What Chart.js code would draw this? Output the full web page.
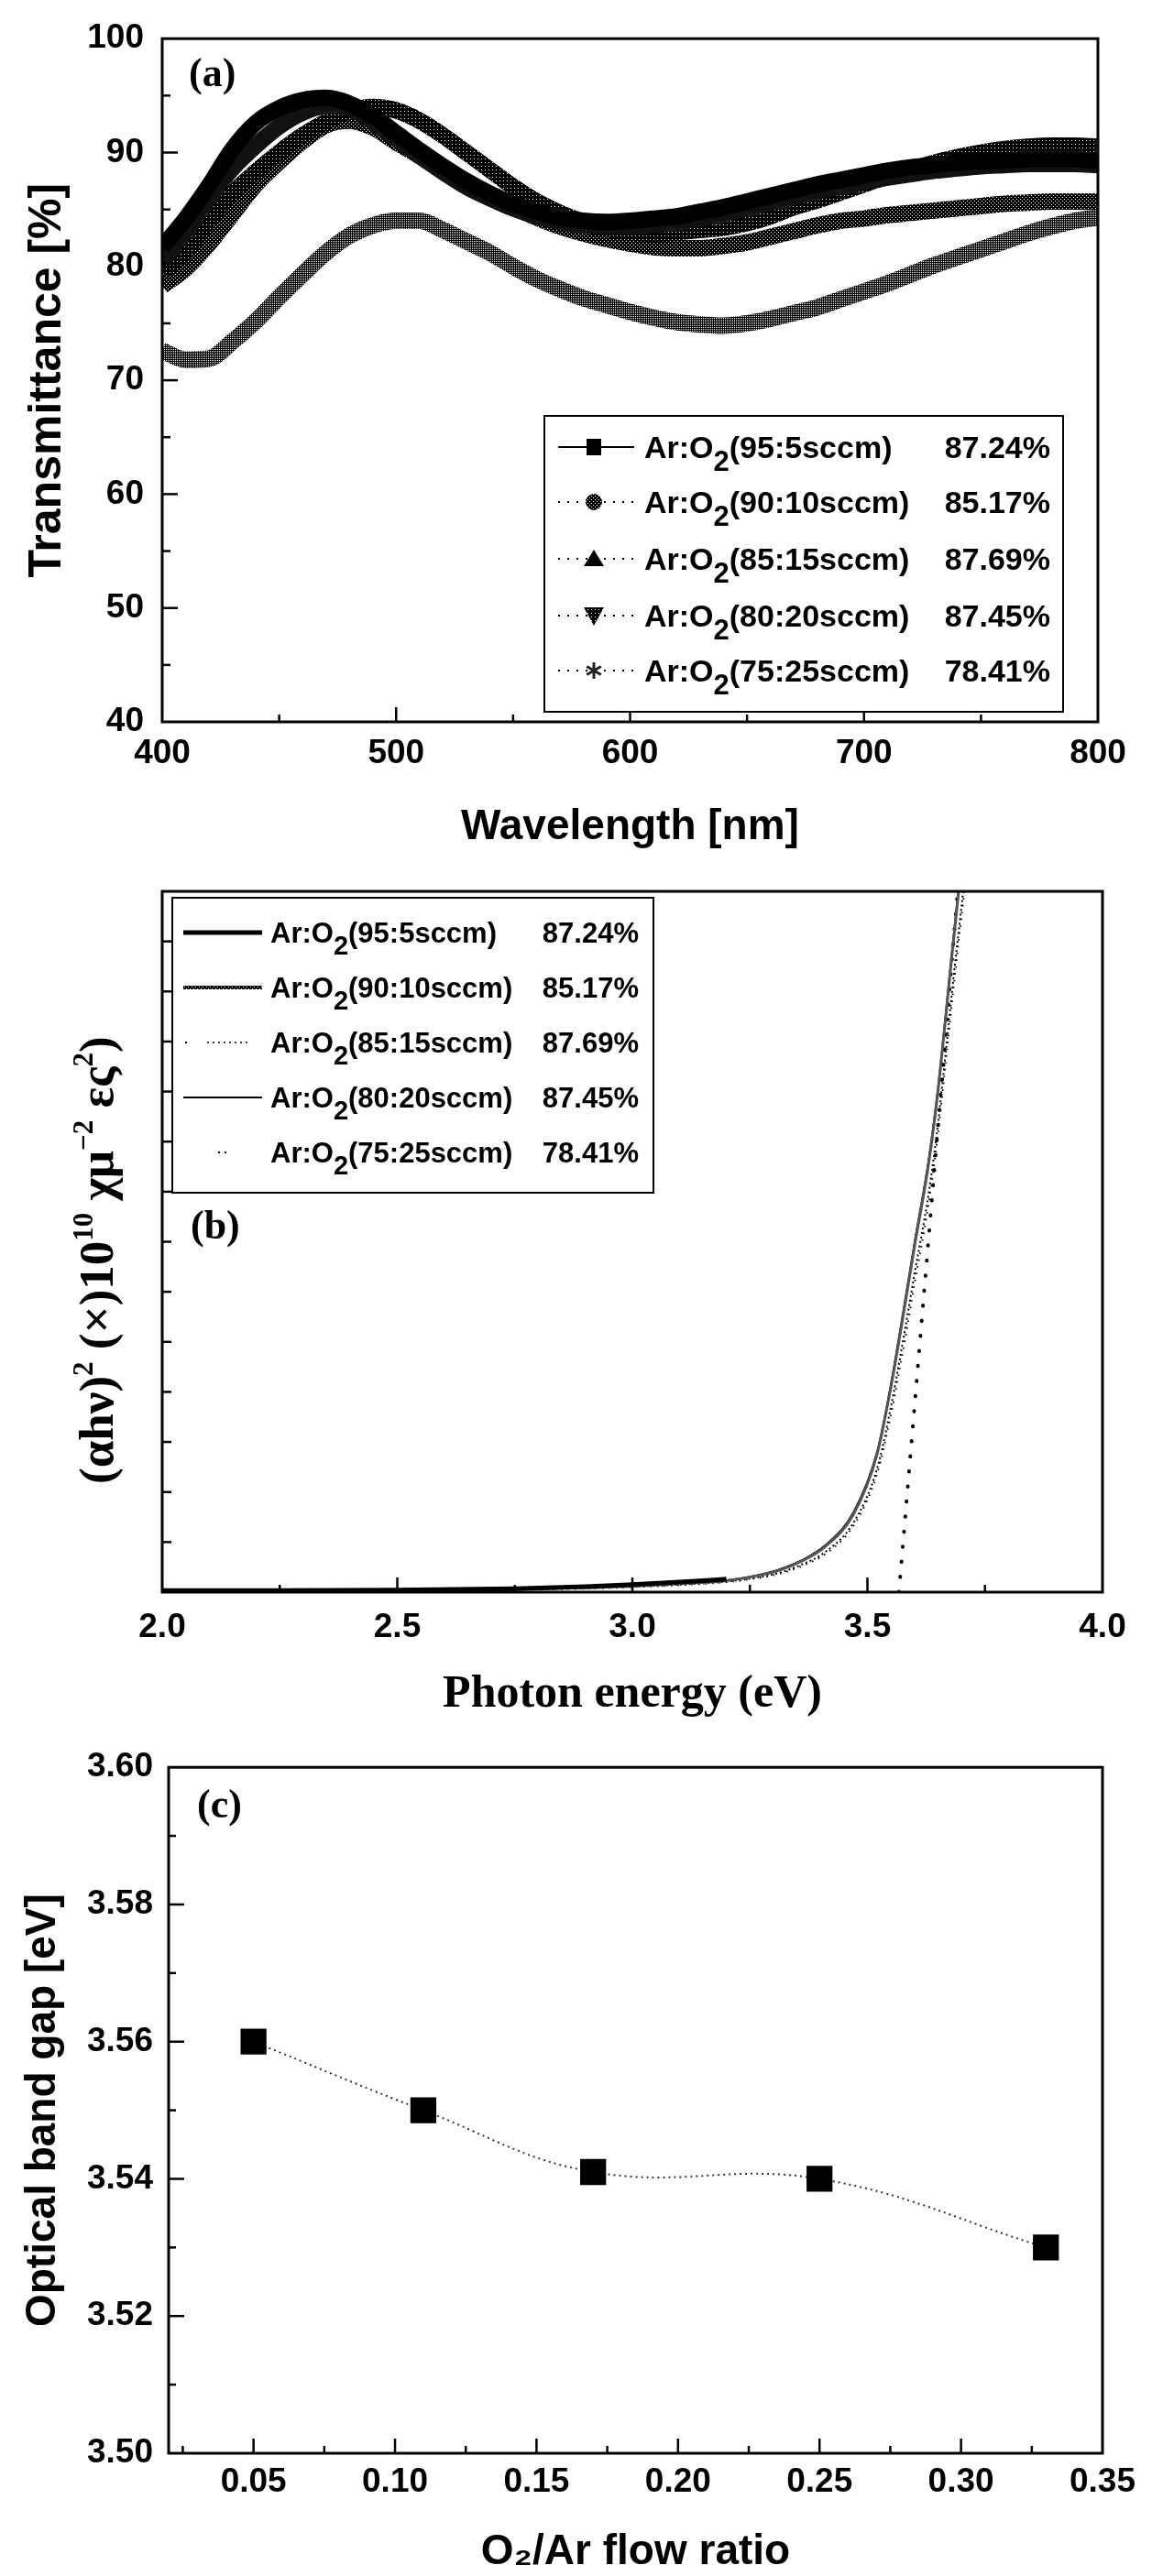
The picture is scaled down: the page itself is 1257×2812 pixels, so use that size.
<!DOCTYPE html>
<html>
<head>
<meta charset="utf-8">
<script src="https://cdn.jsdelivr.net/npm/chart.js"></script>
<style>
  html, body { margin: 0; padding: 0; background: #fff; }
  body { width: 1257px; height: 2812px; position: relative; overflow: hidden; }
  canvas { position: absolute; left: 0; }
</style>
</head>
<body>
<canvas id="chartA" width="1257" height="940" style="top:0px"></canvas>
<canvas id="chartB" width="1257" height="950" style="top:940px"></canvas>
<canvas id="chartC" width="1257" height="922" style="top:1890px"></canvas>
<script>
// panel (a): transmittance spectra
const wavelength = [400, 410, 420, 430, 440, 450, 460, 470, 480, 490,
  500, 510, 520, 530, 540, 550, 560, 570, 580, 590,
  600, 610, 620, 630, 640, 650, 660, 670, 680, 690,
  700, 710, 720, 730, 740, 750, 760, 770, 780, 790, 800];
const trans95_5 = [81.7, 84.2, 87.1, 90.3, 92.6, 93.9, 94.6, 94.8, 94.3, 93.2,
  91.7, 90.2, 88.8, 87.5, 86.4, 85.5, 84.8, 84.3, 84.0, 83.9,
  84.0, 84.2, 84.4, 84.8, 85.2, 85.7, 86.2, 86.7, 87.2, 87.6,
  88.0, 88.4, 88.7, 88.9, 89.1, 89.2, 89.3, 89.4, 89.4, 89.4, 89.3];
const trans90_10 = [78.3, 79.8, 82.0, 84.6, 87.2, 89.2, 91.0, 92.4, 92.8, 92.2,
  90.9, 89.7, 88.4, 87.2, 86.2, 85.2, 84.3, 83.5, 82.9, 82.4,
  82.0, 81.7, 81.6, 81.6, 81.8, 82.1, 82.6, 83.1, 83.6, 84.0,
  84.2, 84.5, 84.7, 84.9, 85.1, 85.3, 85.5, 85.6, 85.7, 85.7, 85.7];
const trans85_15 = [80.6, 83.0, 86.0, 88.6, 90.6, 92.3, 93.5, 94.1, 93.9, 92.7,
  91.2, 89.7, 88.3, 87.0, 86.0, 85.1, 84.4, 83.9, 83.6, 83.5,
  83.5, 83.6, 83.9, 84.2, 84.6, 85.1, 85.6, 86.1, 86.6, 87.0,
  87.4, 87.8, 88.1, 88.4, 88.6, 88.8, 88.9, 89.0, 89.0, 89.0, 88.9];
const trans80_20 = [79.5, 81.2, 84.0, 86.4, 88.3, 90.0, 91.5, 92.7, 93.6, 94.0,
  93.7, 92.8, 91.5, 90.0, 88.5, 87.0, 85.7, 84.7, 83.9, 83.3,
  83.0, 82.9, 83.0, 83.2, 83.4, 83.8, 84.4, 85.2, 85.8, 86.5,
  87.2, 87.9, 88.5, 89.1, 89.6, 90.0, 90.3, 90.5, 90.6, 90.6, 90.5];
const trans75_25 = [72.6, 71.8, 71.9, 73.4, 75.2, 77.3, 79.3, 81.2, 82.7, 83.6,
  84.0, 84.0, 83.2, 82.2, 81.2, 80.0, 78.9, 78.0, 77.2, 76.6,
  76.0, 75.5, 75.1, 74.9, 74.8, 75.0, 75.4, 75.9, 76.4, 77.1,
  77.8, 78.5, 79.3, 80.1, 80.8, 81.5, 82.2, 82.9, 83.5, 84.0, 84.3];

const gasRatios = ['95:5', '90:10', '85:15', '80:20', '75:25'];
const avgTransmittance = ['87.24%', '85.17%', '87.69%', '87.45%', '78.41%'];

// panel (b): (alpha h nu)^2 vs photon energy, arbitrary units 0..14
const photonEnergy = [2.0, 2.25, 2.5, 2.75, 2.9, 3.0, 3.1, 3.2, 3.25, 3.31, 3.36, 3.41,
  3.47, 3.52, 3.55, 3.58, 3.60, 3.63, 3.65, 3.665, 3.68, 3.694, 3.71];
const tauc95_5 = [0.03, 0.03, 0.04, 0.07, 0.11, 0.15, 0.20, 0.26, null, null, null, null,
  null, null, null, null, null, null, null, null, null, null, null];
const tauc90_10 = [0.03, 0.03, 0.04, 0.06, 0.09, 0.12, 0.17, 0.23, 0.30, 0.43, 0.62, 0.91,
  1.55, 2.74, 4.10, 5.75, 6.90, 8.55, 10.0, 11.35, 12.75, 14.0, 15.3];
const tauc85_15 = [0.02, 0.02, 0.03, 0.05, 0.08, 0.11, 0.15, 0.21, 0.27, 0.38, 0.55, 0.80,
  1.38, 2.45, 3.70, 5.25, 6.35, 7.95, 9.35, 10.65, 12.0, 13.2, 14.5];
const tauc80_20 = [0.03, 0.03, 0.04, 0.06, 0.09, 0.13, 0.18, 0.24, 0.31, 0.45, 0.64, 0.94,
  1.60, 2.80, 4.18, 5.85, 7.00, 8.65, 10.1, 11.45, 12.85, 14.1, 15.4];
const tauc75_25 = [0.02, 0.02, 0.03, 0.05, 0.07, 0.10, 0.14, 0.20, 0.26, 0.36, 0.52, 0.76,
  1.32, 2.35, 3.55, 5.05, 6.15, 7.75, 9.15, 10.45, 11.8, 13.0, 14.3];
const tangentEnergy = [3.567, 3.692];
const tangentValue = [0, 14];

// panel (c): optical band gap vs O2/Ar flow ratio
const flowRatio = [0.05, 0.11, 0.17, 0.25, 0.33];
const bandGap = [3.560, 3.550, 3.541, 3.540, 3.530];

const SANS = '"Liberation Sans", Arial, Helvetica, sans-serif';
const SERIF = '"Liberation Serif", "Times New Roman", "DejaVu Serif", serif';
Chart.defaults.font.family = SANS;
Chart.defaults.color = '#000';

const xy = (xs, ys) => xs.map((x, i) => ({ x: x, y: ys[i] }));

function speckle(cells) {
  const c = document.createElement('canvas');
  c.width = c.height = 4;
  const g = c.getContext('2d');
  g.fillStyle = '#000';
  g.fillRect(0, 0, 4, 4);
  g.fillStyle = '#fff';
  cells.forEach(p => g.fillRect(p[0], p[1], 1, 1));
  return g.createPattern(c, 'repeat');
}
const densePat = speckle([[1, 1]]);
const dotPat = speckle([[1, 1], [3, 3]]);
const crossPat = speckle([[1, 1], [3, 3], [1, 3], [3, 1]]);

// frame + inward ticks
function makeFrame(t) {
  return {
    id: 'frame',
    afterDatasetsDraw(chart) {
      const ctx = chart.ctx, a = chart.chartArea;
      const xs = chart.scales.x, ys = chart.scales.y;
      ctx.save();
      ctx.strokeStyle = '#000';
      ctx.lineWidth = 2.5;
      xs.ticks.forEach(tk => {
        const p = xs.getPixelForValue(tk.value);
        if (p <= a.left + 2 || p >= a.right - 2) return;
        const len = tk.label !== '' ? t.xMajor : t.xMinor;
        ctx.beginPath(); ctx.moveTo(p, a.bottom); ctx.lineTo(p, a.bottom - len); ctx.stroke();
      });
      ys.ticks.forEach(tk => {
        const p = ys.getPixelForValue(tk.value);
        if (p <= a.top + 2 || p >= a.bottom - 2) return;
        const len = tk.label !== '' ? t.yMajor : t.yMinor;
        ctx.beginPath(); ctx.moveTo(a.left, p); ctx.lineTo(a.left + len, p); ctx.stroke();
      });
      ctx.lineWidth = 3;
      ctx.strokeRect(a.left, a.top, a.right - a.left, a.bottom - a.top);
      ctx.restore();
    }
  };
}

function drawMarker(ctx, kind, x, y) {
  ctx.save();
  ctx.setLineDash([]);
  ctx.beginPath();
  if (kind === 'square') {
    ctx.fillStyle = '#000';
    ctx.fillRect(x - 8, y - 9, 16, 18);
  } else if (kind === 'circle') {
    ctx.fillStyle = dotPat;
    ctx.arc(x, y, 9, 0, Math.PI * 2);
    ctx.fill();
  } else if (kind === 'triangle') {
    ctx.fillStyle = '#000';
    ctx.moveTo(x, y - 10); ctx.lineTo(x + 11, y + 8); ctx.lineTo(x - 11, y + 8);
    ctx.closePath(); ctx.fill();
  } else if (kind === 'triangleDown') {
    ctx.fillStyle = densePat;
    ctx.moveTo(x - 11, y - 9); ctx.lineTo(x + 11, y - 9); ctx.lineTo(x, y + 11);
    ctx.closePath(); ctx.fill();
  } else if (kind === 'star') {
    ctx.strokeStyle = '#222';
    ctx.lineWidth = 3;
    for (let k = 0; k < 3; k++) {
      const ang = Math.PI / 2 + k * Math.PI / 3;
      ctx.moveTo(x - 9 * Math.cos(ang), y - 9 * Math.sin(ang));
      ctx.lineTo(x + 9 * Math.cos(ang), y + 9 * Math.sin(ang));
    }
    ctx.stroke();
  }
  ctx.restore();
}

function drawSample(ctx, kind, x0, x1, y, mx) {
  ctx.save();
  ctx.strokeStyle = '#000';
  ctx.lineCap = 'butt';
  ctx.beginPath();
  if (kind === 'solid') {
    ctx.lineWidth = 2;
    ctx.moveTo(x0, y); ctx.lineTo(x1, y); ctx.stroke();
  } else if (kind === 'dots') {
    ctx.lineWidth = 2;
    ctx.setLineDash([2, 8]);
    ctx.moveTo(x0, y); ctx.lineTo(x1, y); ctx.stroke();
  } else if (kind === 'thick') {
    ctx.lineWidth = 5;
    ctx.moveTo(x0, y); ctx.lineTo(x1, y); ctx.stroke();
  } else if (kind === 'textured') {
    ctx.lineWidth = 4;
    ctx.strokeStyle = dotPat;
    ctx.moveTo(x0, y); ctx.lineTo(x1, y); ctx.stroke();
  } else if (kind === 'fineDots') {
    ctx.lineWidth = 1.5;
    ctx.setLineDash([2, 4]);
    ctx.moveTo(x0 + 26, y); ctx.lineTo(x1 - 12, y); ctx.stroke();
    ctx.fillStyle = '#000';
    ctx.fillRect(x0 + 2, y - 1, 2, 2);
  } else if (kind === 'thin') {
    ctx.lineWidth = 2;
    ctx.moveTo(x0, y); ctx.lineTo(x1, y); ctx.stroke();
  } else if (kind === 'sparse') {
    ctx.fillStyle = '#000';
    ctx.fillRect(mx - 5, y - 1, 2, 2);
    ctx.fillRect(mx + 2, y - 1, 2, 2);
  }
  ctx.restore();
}

function drawLegend(ctx, lg) {
  ctx.save();
  const b = lg.box;
  ctx.fillStyle = '#fff';
  ctx.fillRect(b[0], b[1], b[2] - b[0], b[3] - b[1]);
  ctx.strokeStyle = '#000';
  ctx.lineWidth = 2;
  ctx.strokeRect(b[0], b[1], b[2] - b[0], b[3] - b[1]);
  const fs = lg.fontSize;
  gasRatios.forEach((ratio, i) => {
    const y = lg.rowY[i];
    drawSample(ctx, lg.lines[i], lg.lineX[0], lg.lineX[1], y, lg.markX);
    if (lg.markers) drawMarker(ctx, lg.markers[i], lg.markX, y);
    const base = y + fs * 0.35;
    ctx.fillStyle = '#000';
    ctx.textBaseline = 'alphabetic';
    ctx.textAlign = 'left';
    ctx.font = 'bold ' + fs + 'px ' + SANS;
    let x = lg.textX;
    ctx.fillText('Ar:O', x, base);
    x += ctx.measureText('Ar:O').width;
    ctx.font = 'bold ' + Math.round(fs * 0.92) + 'px ' + SANS;
    ctx.fillText('2', x, base + fs * 0.42);
    x += ctx.measureText('2').width;
    ctx.font = 'bold ' + fs + 'px ' + SANS;
    ctx.fillText('(' + ratio + 'sccm)', x, base);
    ctx.textAlign = 'right';
    ctx.fillText(avgTransmittance[i], lg.pctRight, base);
  });
  ctx.restore();
}

// rotated axis title with real superscripts, fitted to a target length
function drawRichTitle(ctx, rt) {
  ctx.save();
  const big = rt.size, small = Math.round(rt.size * 0.6);
  const fontOf = s => 'bold ' + s + 'px ' + SERIF;
  let w = 0;
  rt.parts.forEach(p => { ctx.font = fontOf(p[1] ? small : big); w += ctx.measureText(p[0]).width; });
  const k = rt.length / w;
  const B = big * k, S = small * k;
  ctx.translate(rt.cx, rt.cy);
  ctx.rotate(-Math.PI / 2);
  ctx.fillStyle = '#000';
  ctx.textBaseline = 'alphabetic';
  ctx.textAlign = 'left';
  let x = -rt.length / 2;
  const base = B * 0.33;
  rt.parts.forEach(p => {
    ctx.font = fontOf(Math.round(p[1] ? S : B));
    ctx.fillText(p[0], x, p[1] ? base - B * 0.42 : base);
    x += ctx.measureText(p[0]).width;
  });
  ctx.restore();
}

function makeDecor(spec) {
  return {
    id: 'decor',
    afterDraw(chart) {
      const ctx = chart.ctx;
      ctx.save();
      ctx.font = 'bold 44px ' + SERIF;
      ctx.fillStyle = '#000';
      ctx.textAlign = 'left';
      ctx.textBaseline = 'middle';
      ctx.fillText(spec.tag, spec.tagX, spec.tagY);
      ctx.restore();
      if (spec.legend) drawLegend(ctx, spec.legend);
      if (spec.richTitle) drawRichTitle(ctx, spec.richTitle);
    }
  };
}

function fitTo(w) { return scale => { scale.width = w; }; }
function fitH(h) { return scale => { scale.height = h; }; }

const tickFont = { family: SANS, size: 37, weight: 'bold' };
const noGrid = { display: false, drawTicks: false, tickLength: 0 };

// ---------- (a) ----------
const lineA = (label, data, color, order) => ({
  label: label, data: data, borderColor: color, backgroundColor: color,
  borderWidth: 18, pointRadius: 0, cubicInterpolationMode: 'monotone',
  clip: 0, order: order, fill: false
});

new Chart(document.getElementById('chartA'), {
  type: 'line',
  data: {
    datasets: [
      lineA('Ar:O₂(95:5sccm)', xy(wavelength, trans95_5), '#000', 0),
      lineA('Ar:O₂(90:10sccm)', xy(wavelength, trans90_10), dotPat, 3),
      lineA('Ar:O₂(85:15sccm)', xy(wavelength, trans85_15), '#111', 1),
      lineA('Ar:O₂(80:20sccm)', xy(wavelength, trans80_20), densePat, 2),
      lineA('Ar:O₂(75:25sccm)', xy(wavelength, trans75_25), crossPat, 4)
    ]
  },
  options: {
    responsive: false, animation: false, devicePixelRatio: 1,
    layout: { padding: { left: 0, top: 31, right: 59, bottom: 0 } },
    plugins: { legend: { display: false }, tooltip: { enabled: false } },
    scales: {
      x: {
        type: 'linear', min: 400, max: 800,
        grid: noGrid, border: { display: false },
        ticks: { stepSize: 50, autoSkip: false, maxRotation: 0, padding: 13, font: tickFont,
          callback: v => (v % 100 === 0 ? String(v) : '') },
        title: { display: true, text: 'Wavelength [nm]',
          font: { family: SANS, size: 46, weight: 'bold', lineHeight: 1 }, padding: { top: 0, bottom: 14 } },
        afterFit: fitH(152)
      },
      y: {
        type: 'linear', min: 40, max: 100,
        grid: noGrid, border: { display: false },
        ticks: { stepSize: 5, autoSkip: false, padding: 20, font: tickFont,
          callback: v => (v % 10 === 0 ? String(v) : '') },
        title: { display: true, text: 'Transmittance [%]',
          font: { family: SANS, size: 50, weight: 'bold', lineHeight: 1 }, padding: { top: 27, bottom: 0 } },
        afterFit: fitTo(177)
      }
    }
  },
  plugins: [
    makeFrame({ xMajor: 16, xMinor: 8, yMajor: 17, yMinor: 9 }),
    makeDecor({
      tag: '(a)', tagX: 206, tagY: 83,
      legend: {
        box: [594, 454, 1160, 777],
        rowY: [488, 548, 610, 672, 732],
        lineX: [609, 692], markX: 648,
        textX: 703, pctRight: 1146, fontSize: 34,
        lines: ['solid', 'dots', 'dots', 'dots', 'dots'],
        markers: ['square', 'circle', 'triangle', 'triangleDown', 'star']
      }
    })
  ]
});

// ---------- (b) ----------
new Chart(document.getElementById('chartB'), {
  type: 'line',
  data: {
    datasets: [
      { label: 'Ar:O₂(95:5sccm)', data: xy(photonEnergy, tauc95_5), borderColor: '#000', borderWidth: 5 },
      { label: 'Ar:O₂(90:10sccm)', data: xy(photonEnergy, tauc90_10), borderColor: '#555', borderWidth: 3 },
      { label: 'Ar:O₂(85:15sccm)', data: xy(photonEnergy, tauc85_15), borderColor: '#000', borderWidth: 2, borderDash: [2, 3] },
      { label: 'Ar:O₂(80:20sccm)', data: xy(photonEnergy, tauc80_20), borderColor: '#000', borderWidth: 1.5 },
      { label: 'Ar:O₂(75:25sccm)', data: xy(photonEnergy, tauc75_25), borderColor: '#000', borderWidth: 2, borderDash: [1.5, 6] },
      { label: 'tangent', data: xy(tangentEnergy, tangentValue), borderColor: '#000', borderWidth: 4,
        borderDash: [0.5, 16], borderCapStyle: 'round' }
    ].map(d => Object.assign({ pointRadius: 0, cubicInterpolationMode: 'monotone', clip: 0, fill: false, spanGaps: false }, d))
  },
  options: {
    responsive: false, animation: false, devicePixelRatio: 1,
    layout: { padding: { left: 0, top: 33, right: 54, bottom: 0 } },
    plugins: { legend: { display: false }, tooltip: { enabled: false } },
    scales: {
      x: {
        type: 'linear', min: 2, max: 4,
        grid: noGrid, border: { display: false },
        ticks: { stepSize: 0.25, autoSkip: false, maxRotation: 0, padding: 17, font: tickFont,
          callback: v => (Math.round(v * 100) % 50 === 0 ? v.toFixed(1) : '') },
        title: { display: true, text: 'Photon energy (eV)',
          font: { family: SERIF, size: 50, weight: 'bold', lineHeight: 1 }, padding: { top: 0, bottom: 15 } },
        afterFit: fitH(152)
      },
      y: {
        type: 'linear', min: 0, max: 14,
        grid: noGrid, border: { display: false },
        ticks: { stepSize: 1, autoSkip: false, padding: 0, font: tickFont, callback: () => '' },
        title: { display: false },
        afterFit: fitTo(177)
      }
    }
  },
  plugins: [
    makeFrame({ xMajor: 16, xMinor: 8, yMajor: 10, yMinor: 10 }),
    makeDecor({
      tag: '(b)', tagX: 208, tagY: 401,
      legend: {
        box: [188, 40, 713, 362],
        rowY: [78, 138, 198, 258, 318],
        lineX: [200, 286], markX: 243,
        textX: 295, pctRight: 697, fontSize: 31,
        lines: ['thick', 'textured', 'fineDots', 'thin', 'sparse']
      },
      richTitle: {
        cx: 106, cy: 436, length: 488, size: 44,
        parts: [['(αhν)', false], ['2', true], [' (×)10', false], ['10', true],
          [' χμ', false], ['−2', true], [' ες', false], ['2', true], [')', false]]
      }
    })
  ]
});

// ---------- (c) ----------
new Chart(document.getElementById('chartC'), {
  type: 'line',
  data: {
    datasets: [{
      label: 'Optical band gap',
      data: xy(flowRatio, bandGap),
      borderColor: '#333', borderWidth: 2, borderDash: [2, 4],
      pointStyle: 'rect', pointRadius: 20, pointBackgroundColor: '#000', pointBorderColor: '#000',
      pointBorderWidth: 0, tension: 0.4, fill: false, clip: 0
    }]
  },
  options: {
    responsive: false, animation: false, devicePixelRatio: 1,
    layout: { padding: { left: 0, top: 34, right: 54, bottom: 0 } },
    plugins: { legend: { display: false }, tooltip: { enabled: false } },
    scales: {
      x: {
        type: 'linear', min: 0.02, max: 0.35,
        grid: noGrid, border: { display: false },
        afterBuildTicks: scale => {
          const t = [];
          for (let k = 1; k <= 14; k++) t.push({ value: Math.round(k * 25) / 1000 });
          scale.ticks = t;
        },
        ticks: { autoSkip: false, maxRotation: 0, padding: 10, font: tickFont,
          callback: v => (Math.round(v * 1000) % 50 === 0 ? v.toFixed(2) : '') },
        title: { display: true, text: 'O₂/Ar flow ratio',
          font: { family: SANS, size: 46, weight: 'bold', lineHeight: 1 }, padding: { top: 0, bottom: 3 } },
        afterFit: fitH(134)
      },
      y: {
        type: 'linear', min: 3.50, max: 3.60,
        grid: noGrid, border: { display: false },
        ticks: { stepSize: 0.01, autoSkip: false, padding: 17, font: tickFont,
          callback: v => (Math.round(v * 100) % 2 === 0 ? v.toFixed(2) : '') },
        title: { display: true, text: 'Optical band gap [eV]',
          font: { family: SANS, size: 46, weight: 'bold', lineHeight: 1 }, padding: { top: 24, bottom: 0 } },
        afterFit: fitTo(184)
      }
    }
  },
  plugins: [
    makeFrame({ xMajor: 16, xMinor: 8, yMajor: 17, yMinor: 8 }),
    makeDecor({ tag: '(c)', tagX: 215, tagY: 83 })
  ]
});
</script>
</body>
</html>
